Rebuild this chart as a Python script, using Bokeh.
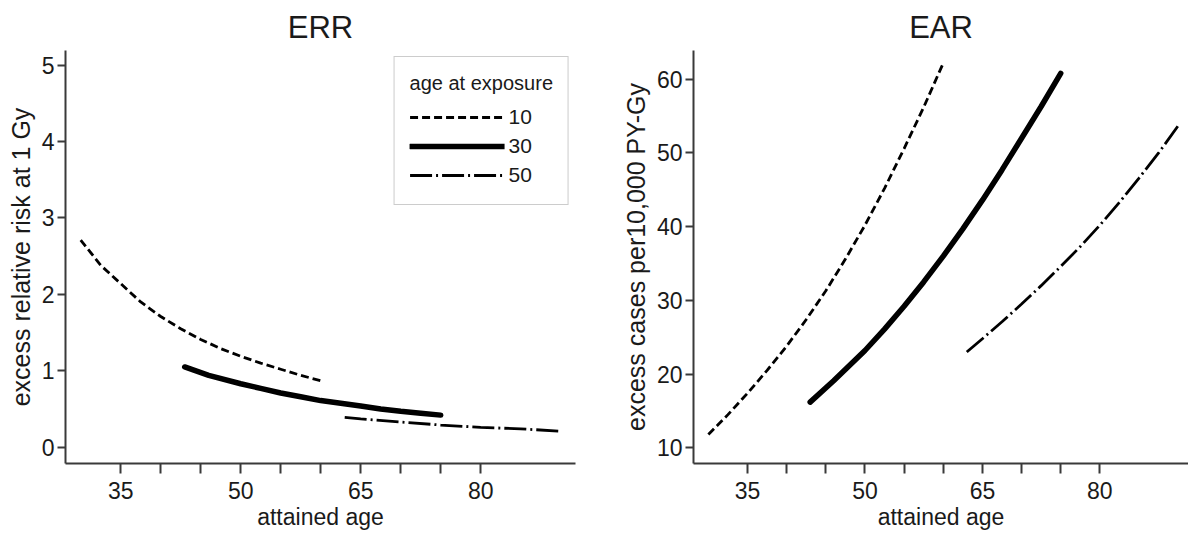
from bokeh.plotting import figure
from bokeh.layouts import row
from bokeh.models import FixedTicker, Range1d, Legend, LegendItem
from bokeh.embed import file_html
from bokeh.resources import INLINE

# ---- data ----
exposure_ages = ["10", "30", "50"]

# ERR panel (excess relative risk at 1 Gy)
err_age_10 = [30, 32.5, 35, 37.5, 40, 42.5, 45, 47.5, 50, 52.5, 55, 57.5, 60]
err_val_10 = [2.71, 2.38, 2.14, 1.90, 1.71, 1.55, 1.41, 1.29, 1.19, 1.10, 1.02, 0.94, 0.87]
err_age_30 = [43, 46, 50, 52.5, 55, 57.5, 60, 62.5, 65, 67.5, 70, 72.5, 75]
err_val_30 = [1.05, 0.94, 0.83, 0.77, 0.71, 0.66, 0.61, 0.575, 0.54, 0.50, 0.47, 0.445, 0.42]
err_age_50 = [63, 65, 70, 75, 80, 85, 90]
err_val_50 = [0.39, 0.37, 0.33, 0.29, 0.26, 0.24, 0.21]

# EAR panel (excess cases per 10,000 PY-Gy)
ear_age_10 = [30, 32.5, 35, 37.5, 40, 42.5, 45, 47.5, 50, 52.5, 55, 57.5, 60]
ear_val_10 = [11.8, 14.5, 17.4, 20.5, 23.8, 27.4, 31.3, 35.6, 40.2, 45.2, 50.6, 56.2, 62.2]
ear_age_30 = [43, 46, 50, 52.5, 55, 57.5, 60, 62.5, 65, 67.5, 70, 72.5, 75]
ear_val_30 = [16.2, 19.1, 23.2, 26.1, 29.2, 32.5, 36.0, 39.7, 43.6, 47.7, 52.0, 56.3, 60.8]
ear_age_50 = [63, 65, 67.5, 70, 72.5, 75, 77.5, 80, 82.5, 85, 87.5, 90]
ear_val_50 = [23.0, 24.8, 27.1, 29.5, 32.0, 34.6, 37.3, 40.2, 43.3, 46.6, 50.0, 53.7]

x_major = [35, 50, 65, 80]
x_minor = [40, 45, 55, 60, 70, 75]
err_ticks = [0, 1, 2, 3, 4, 5]
ear_ticks = [10, 20, 30, 40, 50, 60]

FONT = "Liberation Sans, Arial, sans-serif"
AXC = "#3a3a3a"
TXT = "#1a1a1a"

STYLES = {
    "10": dict(line_width=2.8, line_dash="8 4"),
    "30": dict(line_width=5.5, line_dash="solid"),
    "50": dict(line_width=2.8, line_dash="22 4 2 4"),
}


def make_fig(title, ylabel, yr, yticks, width, border_left, border_right, px_per_year):
    p = figure(width=width, height=534, output_backend="svg", toolbar_location=None,
               x_range=Range1d(28.1, 28.1 + (width - border_left - border_right) / px_per_year),
               y_range=yr, min_border_left=border_left, min_border_right=border_right,
               min_border_top=50, min_border_bottom=71, title=title)
    p.outline_line_color = None
    p.xgrid.visible = False
    p.ygrid.visible = False
    p.background_fill_color = "white"
    p.border_fill_color = "white"
    p.title.align = "center"
    p.title.text_font = FONT
    p.title.text_font_size = "31px"
    p.title.text_font_style = "normal"
    p.title.text_color = TXT
    p.title.standoff = 11

    xa = p.xaxis[0]
    xa.ticker = FixedTicker(ticks=x_major, minor_ticks=x_minor)
    xa.axis_label = "attained age"
    ya = p.yaxis[0]
    ya.ticker = FixedTicker(ticks=yticks, minor_ticks=[])
    ya.axis_label = ylabel
    for ax in (xa, ya):
        ax.axis_line_color = AXC
        ax.axis_line_width = 2
        ax.major_tick_line_color = AXC
        ax.major_tick_line_width = 2
        ax.minor_tick_line_color = AXC
        ax.minor_tick_line_width = 2
        ax.major_tick_in = 0
        ax.minor_tick_in = 0
        ax.major_label_text_font = FONT
        ax.major_label_text_font_size = "23px"
        ax.major_label_text_color = TXT
        ax.axis_label_text_color = TXT
        ax.axis_label_text_font_style = "normal"
        ax.axis_label_text_font = FONT
    xa.major_tick_out = 10
    xa.minor_tick_out = 10
    xa.major_label_standoff = 8
    xa.axis_label_text_font_size = "23px"
    xa.axis_label_standoff = 2
    ya.major_tick_out = 8
    ya.minor_tick_out = 0
    ya.major_label_standoff = 3
    ya.axis_label_text_font_size = "25px"
    ya.axis_label_standoff = 4
    return p


p1 = make_fig("ERR", "excess relative risk at 1 Gy", Range1d(-0.213, 5.19), err_ticks,
              615, 65, 40, 8.0)
r10 = p1.line(err_age_10, err_val_10, line_color="black", **STYLES["10"])
r30 = p1.line(err_age_30, err_val_30, line_color="black", line_cap="round", **STYLES["30"])
r50 = p1.line(err_age_50, err_val_50, line_color="black", **STYLES["50"])

legend = Legend(items=[LegendItem(label=exposure_ages[0], renderers=[r10]),
                       LegendItem(label=exposure_ages[1], renderers=[r30]),
                       LegendItem(label=exposure_ages[2], renderers=[r50])],
                location="top_right", title="age at exposure")
legend.margin = 6
legend.padding = 15
legend.spacing = 1
legend.glyph_width = 95
legend.glyph_height = 28
legend.label_height = 28
legend.label_standoff = 4
legend.label_text_font = FONT
legend.label_text_font_size = "21px"
legend.label_text_color = TXT
legend.title_text_font = FONT
legend.title_text_font_size = "20px"
legend.title_text_font_style = "normal"
legend.title_text_color = TXT
legend.title_standoff = 8
legend.border_line_color = "#9a9a9a"
legend.border_line_width = 1.5
legend.background_fill_color = "white"
legend.background_fill_alpha = 1
p1.add_layout(legend)

p2 = make_fig("EAR", "excess cases per10,000 PY-Gy", Range1d(7.87, 63.9), ear_ticks,
              573, 78, 0, 7.83)
p2.line(ear_age_10, ear_val_10, line_color="black", **STYLES["10"])
p2.line(ear_age_30, ear_val_30, line_color="black", line_cap="round", **STYLES["30"])
p2.line(ear_age_50, ear_val_50, line_color="black", **STYLES["50"])

layout = row(p1, p2)
open("out.html", "w").write(file_html(layout, INLINE))
